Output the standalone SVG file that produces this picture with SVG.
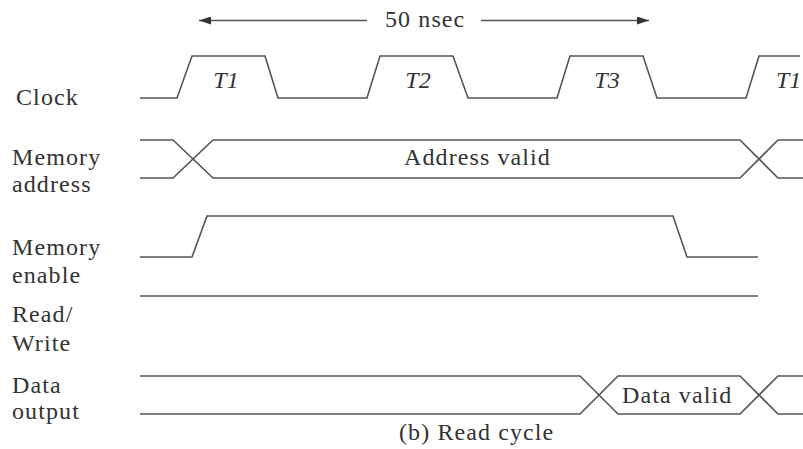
<svg xmlns="http://www.w3.org/2000/svg" width="803" height="449" viewBox="0 0 803 449">
<style>
.sig{fill:none;stroke:#555;stroke-width:1.6;stroke-linejoin:miter}
.t{font-family:"Liberation Serif","Times New Roman",serif;font-size:24px;fill:#333;letter-spacing:1.1px}
.ti{font-family:"Liberation Serif","Times New Roman",serif;font-size:24px;fill:#333;font-style:italic}
</style>
<defs>
<marker id="ah" viewBox="0 0 12 8" refX="12" refY="4" markerWidth="12" markerHeight="8" markerUnits="userSpaceOnUse" orient="auto">
<path d="M0,0 L12,4 L0,8 Z" fill="#333"/>
</marker>
</defs>
<rect width="803" height="449" fill="#fff"/>
<g id="labels">
<text class="t" x="16" y="105">Clock</text>
<text class="t" x="12" y="165">Memory</text>
<text class="t" x="12" y="192">address</text>
<text class="t" x="12" y="255">Memory</text>
<text class="t" x="12" y="283">enable</text>
<text class="t" x="12" y="322">Read/</text>
<text class="t" x="12" y="351">Write</text>
<text class="t" x="12" y="393">Data</text>
<text class="t" x="12" y="419">output</text>
</g>
<g id="period">
<path class="sig" d="M367,20.5 L199,20.5" marker-end="url(#ah)"/>
<path class="sig" d="M481,20.5 L649,20.5" marker-end="url(#ah)"/>
<text class="t" x="385" y="27">50 nsec</text>
</g>
<g id="clock">
<path class="sig" d="M140,98 L177,98 L192,56 L265,56 L278,98 L367,98 L380,56 L453,56 L468,98 L557,98 L570,56 L643,56 L657,98 L746,98 L759,56 L800,56"/>
<text class="ti" x="226" y="88" text-anchor="middle">T1</text>
<text class="ti" x="418" y="88" text-anchor="middle">T2</text>
<text class="ti" x="607" y="88" text-anchor="middle">T3</text>
<text class="ti" x="776" y="88">T1</text>
</g>
<g id="memory-address">
<path class="sig" d="M140,140 L173,140 L213,178 L740,178 L778,140 L803,140"/>
<path class="sig" d="M140,178 L173,178 L213,140 L740,140 L778,178 L803,178"/>
<text class="t" x="404" y="165">Address valid</text>
</g>
<g id="memory-enable">
<path class="sig" d="M140,257 L192,257 L207,216 L673,216 L687,257 L758,257"/>
</g>
<g id="read-write">
<path class="sig" d="M140,296 L758,296"/>
</g>
<g id="data-output">
<path class="sig" d="M140,376 L580,376 L618,414 L740,414 L778,376 L803,376"/>
<path class="sig" d="M140,414 L580,414 L618,376 L740,376 L778,414 L803,414"/>
<text class="t" x="622" y="403">Data valid</text>
</g>
<g id="caption">
<text class="t" x="399" y="440">(b) Read cycle</text>
</g>
</svg>
